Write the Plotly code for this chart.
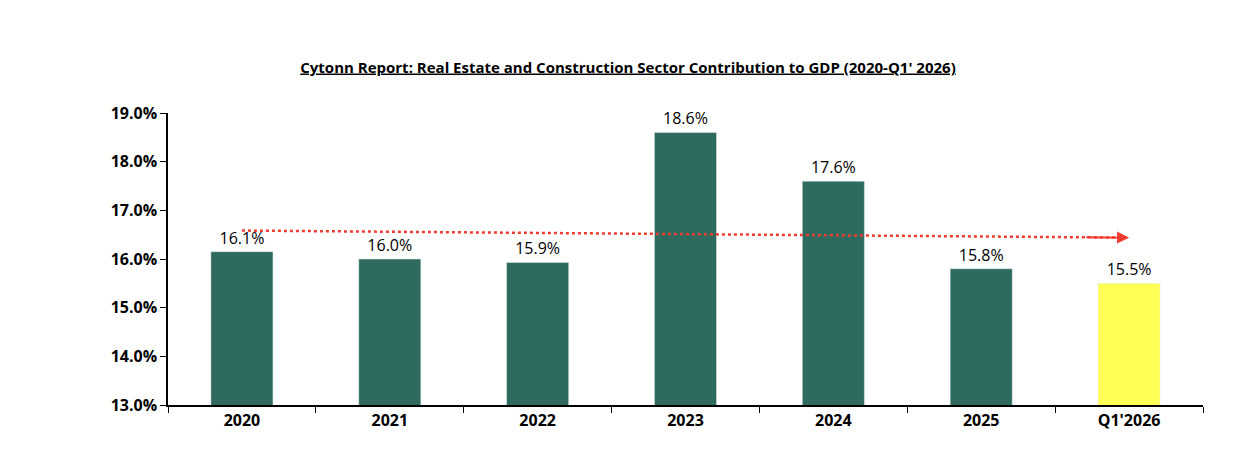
import plotly.graph_objects as go
import numpy as np

categories = ["2020", "2021", "2022", "2023", "2024", "2025", "Q1'2026"]
values = [16.15, 16.0, 15.93, 18.6, 17.6, 15.8, 15.5]
labels = ["16.1%", "16.0%", "15.9%", "18.6%", "17.6%", "15.8%", "15.5%"]
colors = ["#2E6B5E"] * 6 + ["#FFFF55"]

# linear trend across the periods
xi = np.arange(len(values))
slope, intercept = np.polyfit(xi, values, 1)
trend = slope * xi + intercept

fig = go.Figure()
fig.add_trace(go.Bar(
    x=categories, y=values, marker_color=colors, width=0.42,
    text=labels, textposition="outside", cliponaxis=False,
    textfont=dict(size=16, color="black", family="Open Sans"),
))
fig.add_trace(go.Scatter(
    x=categories, y=trend, mode="lines",
    line=dict(color="#F03C30", width=2.5, dash="dot"),
))
fig.add_annotation(
    x=6, y=trend[-1], ax=5.7, ay=trend[-1] - slope * 0.3,
    xref="x", yref="y", axref="x", ayref="y", text="", showarrow=True,
    arrowhead=2, arrowsize=1.2, arrowwidth=2, arrowcolor="#F03C30", standoff=0,
)

fig.update_layout(
    width=1240, height=456,
    paper_bgcolor="white", plot_bgcolor="white",
    showlegend=False,
    margin=dict(l=160, r=45, t=105, b=59),
    font=dict(family="Open Sans", color="black", size=15),
    title=dict(
        text="<b><u>Cytonn Report: Real Estate and Construction Sector Contribution to GDP (2020-Q1' 2026)</u></b>",
        x=0.5, xanchor="center", y=0.87, yanchor="middle",
        font=dict(size=15),
    ),
    xaxis=dict(
        type="category",
        showline=True, linecolor="black", linewidth=1.5,
        ticks="outside", tickson="boundaries", ticklen=6, tickcolor="black",
        tickfont=dict(size=16), tickprefix="<b>", ticksuffix="</b>",
        tickangle=0,
    ),
    yaxis=dict(
        range=[13, 19], dtick=1, showgrid=False,
        showline=True, linecolor="black", linewidth=1.5,
        ticks="outside", ticklen=6, tickcolor="black",
        tickformat=".1f", ticksuffix="%</b>", tickprefix="<b>",
        tickfont=dict(size=16),
    ),
)

fig.write_html("out.html")
